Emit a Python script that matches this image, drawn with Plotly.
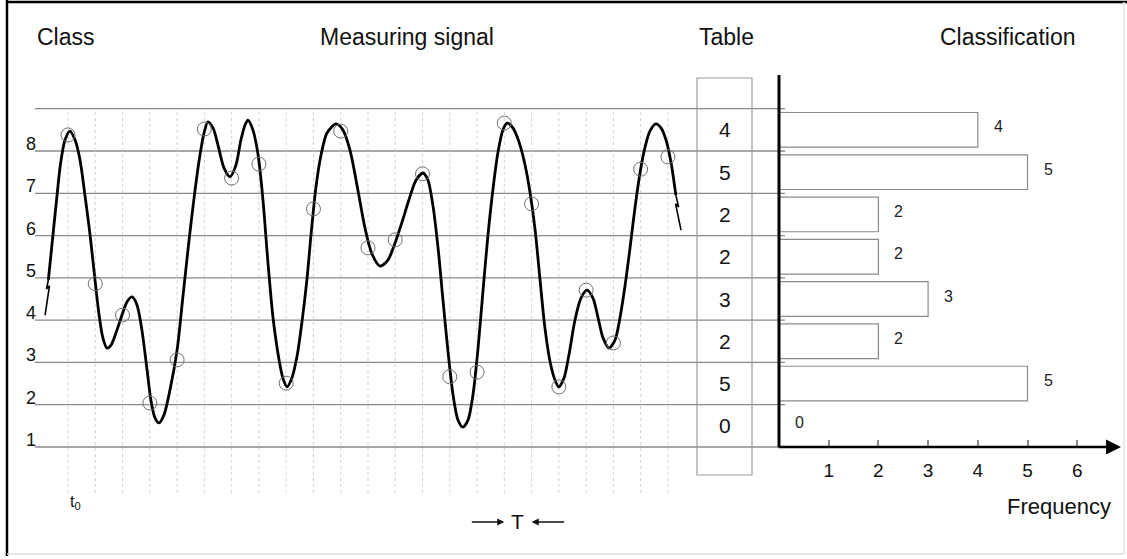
import plotly.graph_objects as go

W, H = 1127, 559
FONT = "Arial, 'Liberation Sans', sans-serif"

# ---------------- data ----------------
classes = [8, 7, 6, 5, 4, 3, 2, 1]              # class k covers [k, k+1)
frequency = [4, 5, 2, 2, 3, 2, 5, 0]            # counts per class (table + bars)
class_bounds = [1, 2, 3, 4, 5, 6, 7, 8, 9]      # horizontal class boundaries
class_labels = ["1", "2", "3", "4", "5", "6", "7", "8"]
freq_ticks = [1, 2, 3, 4, 5, 6]

# sampling instants (in units of T) and sampled values
sample_t = list(range(23))
sample_v = [8.38, 4.86, 4.12, 2.04, 3.06, 8.52, 7.36, 7.69, 2.51, 6.63, 8.47, 5.71,
            5.90, 7.46, 2.66, 2.77, 8.66, 6.75, 2.42, 4.71, 3.46, 7.57, 7.86]

# measuring signal, time in units of T
signal_t = [-0.72, -0.57, -0.42, -0.28, -0.11, 0.07,
            0.26, 0.44, 0.62, 0.81, 0.99, 1.14, 1.28, 1.43,
            1.58, 1.76, 1.98, 2.16, 2.35,
            2.53, 2.71, 2.90, 3.04, 3.19, 3.34,
            3.52, 3.74, 4.00, 4.22, 4.44, 4.66, 4.84, 4.99, 5.13,
            5.32, 5.50, 5.72, 5.94, 6.16, 6.34, 6.49, 6.60,
            6.78, 6.97, 7.15, 7.33, 7.52, 7.74, 7.88, 8.03,
            8.21, 8.40, 8.58, 8.76, 8.91, 9.09, 9.28, 9.50, 9.83,
            10.08, 10.34, 10.63, 10.89, 11.15, 11.44, 11.73, 11.99, 12.25, 12.50, 12.76, 13.02,
            13.20, 13.38, 13.57, 13.75, 13.93, 14.12, 14.30, 14.48,
            14.67, 14.85, 15.03, 15.22, 15.40, 15.59, 15.77, 15.95, 16.10,
            16.32, 16.54, 16.76, 16.94, 17.13, 17.31, 17.49, 17.68, 17.86, 18.00,
            18.19, 18.37, 18.59, 18.81, 19.03, 19.25, 19.44, 19.62, 19.84,
            20.06, 20.24, 20.43, 20.61, 20.79, 20.98, 21.16, 21.34, 21.56,
            21.75, 21.93, 22.11, 22.29]
signal_v = [4.95, 5.90, 6.84, 7.67, 8.26, 8.47,
            8.26, 7.79, 6.96, 6.01, 4.95, 4.12, 3.58, 3.34,
            3.41, 3.70, 4.12, 4.43, 4.55,
            4.36, 3.77, 2.82, 2.11, 1.69, 1.57,
            1.76, 2.35, 3.29, 4.59, 5.90, 7.08, 7.91, 8.43, 8.69,
            8.54, 8.14, 7.60, 7.39, 7.67, 8.26, 8.61, 8.73,
            8.50, 7.91, 6.84, 5.38, 4.05, 3.06, 2.63, 2.42,
            2.63, 3.15, 3.96, 4.95, 6.01, 7.13, 7.91, 8.43, 8.64,
            8.50, 8.02, 7.08, 6.18, 5.56, 5.28, 5.42, 5.82, 6.32, 6.84, 7.31, 7.48,
            7.31, 6.72, 5.71, 4.48, 3.29, 2.23, 1.64, 1.47,
            1.64, 2.23, 3.29, 4.71, 6.01, 7.13, 7.98, 8.50, 8.66,
            8.54, 8.21, 7.67, 7.03, 6.13, 4.95, 3.81, 3.01, 2.58, 2.42,
            2.63, 3.18, 4.00, 4.52, 4.71, 4.52, 4.05, 3.58, 3.34,
            3.53, 4.05, 4.83, 5.71, 6.65, 7.50, 8.09, 8.47, 8.64,
            8.54, 8.26, 7.74, 6.96]

# lightning-bolt glyphs marking the cut signal at start and end
bolt_start_t = [-0.72, -0.79, -0.68, -0.84]
bolt_start_v = [4.95, 4.74, 4.81, 4.12]
bolt_end_t = [22.29, 22.39, 22.28, 22.48]
bolt_end_v = [6.96, 6.68, 6.75, 6.13]

# ---------------- geometry helpers ----------------
T_PX, T0_PX = 27.27, 68.0          # pixels per sampling period, position of t0
F_PX, F0_PX = 49.7, 779.0          # pixels per frequency unit, frequency origin
V_PX, V1_PY = 42.286, 447.0        # pixels per class, pixel row of class boundary 1


def px(x):
    return x / W


def py(y):
    return 1 - y / H


def vy(y):
    return 1 + (V1_PY - y) / V_PX


fig = go.Figure()

# signal curve
fig.add_trace(go.Scatter(x=signal_t, y=signal_v, mode="lines",
                         line=dict(color="black", width=2.8, shape="spline", smoothing=0.8),
                         hoverinfo="skip"))
for bt, bv in ((bolt_start_t, bolt_start_v), (bolt_end_t, bolt_end_v)):
    fig.add_trace(go.Scatter(x=bt, y=bv, mode="lines",
                             line=dict(color="black", width=1.6), hoverinfo="skip"))

# sample circles
fig.add_trace(go.Scatter(x=sample_t, y=sample_v, mode="markers",
                         marker=dict(symbol="circle-open", size=14, color="#707070",
                                     line=dict(width=1)),
                         hoverinfo="skip"))

# frequency bars
fig.add_trace(go.Bar(x=frequency, y=[c + 0.5 for c in classes], orientation="h",
                     xaxis="x2", yaxis="y", width=0.82,
                     marker=dict(color="white", line=dict(color="#8a8a8a", width=1.2)),
                     hoverinfo="skip"))

shapes = []
# horizontal class boundaries
for b in class_bounds:
    shapes.append(dict(type="line", xref="paper", yref="y", x0=px(35), x1=px(785),
                       y0=b, y1=b, line=dict(color="#8a8a8a", width=1.3), layer="below"))
# dotted sampling lines
for t in sample_t:
    shapes.append(dict(type="line", xref="x", yref="y", x0=t, x1=t, y0=vy(493), y1=9,
                       line=dict(color="#d2d2d2", width=1, dash="dot"), layer="below"))
# table frame
shapes.append(dict(type="rect", xref="paper", yref="y", x0=px(697), x1=px(752),
                   y0=vy(475), y1=vy(78), line=dict(color="#9a9a9a", width=1.2),
                   fillcolor="rgba(0,0,0,0)", layer="below"))
# vertical axis of the histogram
shapes.append(dict(type="line", xref="x2", yref="y", x0=0, x1=0, y0=1, y1=vy(75),
                   line=dict(color="black", width=3)))
# picture frame
shapes.append(dict(type="line", xref="paper", yref="paper", x0=px(7), x1=px(7),
                   y0=py(556), y1=1, line=dict(color="black", width=2.5)))
shapes.append(dict(type="line", xref="paper", yref="paper", x0=px(6), x1=1,
                   y0=py(2), y1=py(2), line=dict(color="black", width=2.5)))
shapes.append(dict(type="line", xref="paper", yref="paper", x0=px(7), x1=px(1124),
                   y0=py(554), y1=py(554), line=dict(color="#dedede", width=1.5)))
shapes.append(dict(type="line", xref="paper", yref="paper", x0=px(1124), x1=px(1124),
                   y0=py(554), y1=py(2), line=dict(color="#e4e4e4", width=1.5)))

ann = []


def text(x, y, s, size, xanchor="center", color="#111111", **kw):
    d = dict(x=x, y=y, text=s, showarrow=False, xanchor=xanchor, yanchor="middle",
             font=dict(family=FONT, size=size, color=color))
    d.setdefault("xref", "paper")
    d.setdefault("yref", "paper")
    d.update(kw)
    ann.append(d)


text(px(35), py(37), "Class", 23, xanchor="left")
text(px(407), py(37), "Measuring signal", 23)
text(px(727), py(37), "Table", 23)
text(px(1008), py(37), "Classification", 23)
text(px(1059), py(506), "Frequency", 22)

for b, lab in zip(class_bounds, class_labels):
    text(px(31), b, lab, 18, yref="y", yshift=7)

for c, f in zip(classes, frequency):
    text(px(724.5), c + 0.5, str(f), 21, yref="y")
    text(f, c + 0.5, str(f), 16, xanchor="left", xref="x2", yref="y", xshift=14,
         yshift=3, color="#222222")

text(sample_t[0], py(502), "t<sub>0</sub>", 16, xanchor="left", xref="x")
text((sample_t[16] + sample_t[17]) / 2, py(521), "T", 21, xref="x")
for t, ax in ((sample_t[16], -34), (sample_t[17], 34)):
    ann.append(dict(x=t, y=py(522), xref="x", yref="paper", ax=ax, ay=0, text="",
                    showarrow=True, arrowhead=2, arrowsize=1.1, arrowwidth=1.3,
                    arrowcolor="#111111", standoff=0))
# frequency axis with arrow
ann.append(dict(x=(1121 - F0_PX) / F_PX, y=1, xref="x2", yref="y",
                ax=-(1121 - 777), ay=0, text="", showarrow=True, arrowhead=2,
                arrowsize=1.15, arrowwidth=2.6, arrowcolor="black", standoff=0))

fig.update_layout(
    width=W, height=H, margin=dict(l=0, r=0, t=0, b=0),
    paper_bgcolor="white", plot_bgcolor="white", showlegend=False,
    xaxis=dict(range=[-T0_PX / T_PX, (W - T0_PX) / T_PX], domain=[0, 1], visible=False,
               fixedrange=True),
    yaxis=dict(range=[vy(H), vy(0)], domain=[0, 1], visible=False, fixedrange=True),
    xaxis2=dict(range=[-F0_PX / F_PX, (W - F0_PX) / F_PX], overlaying="x",
                anchor="free", position=(H - V1_PY) / H, showgrid=False,
                zeroline=False, showline=False, tickmode="array", tickvals=freq_ticks,
                ticks="inside", ticklen=7, tickwidth=1.5, tickcolor="#8a8a8a",
                tickfont=dict(family=FONT, size=19, color="#111111"),
                ticklabelstandoff=10, fixedrange=True),
    shapes=shapes, annotations=ann,
)

fig.write_html("out.html", config={"displayModeBar": False},
               post_script="document.body.style.margin='0px';")
